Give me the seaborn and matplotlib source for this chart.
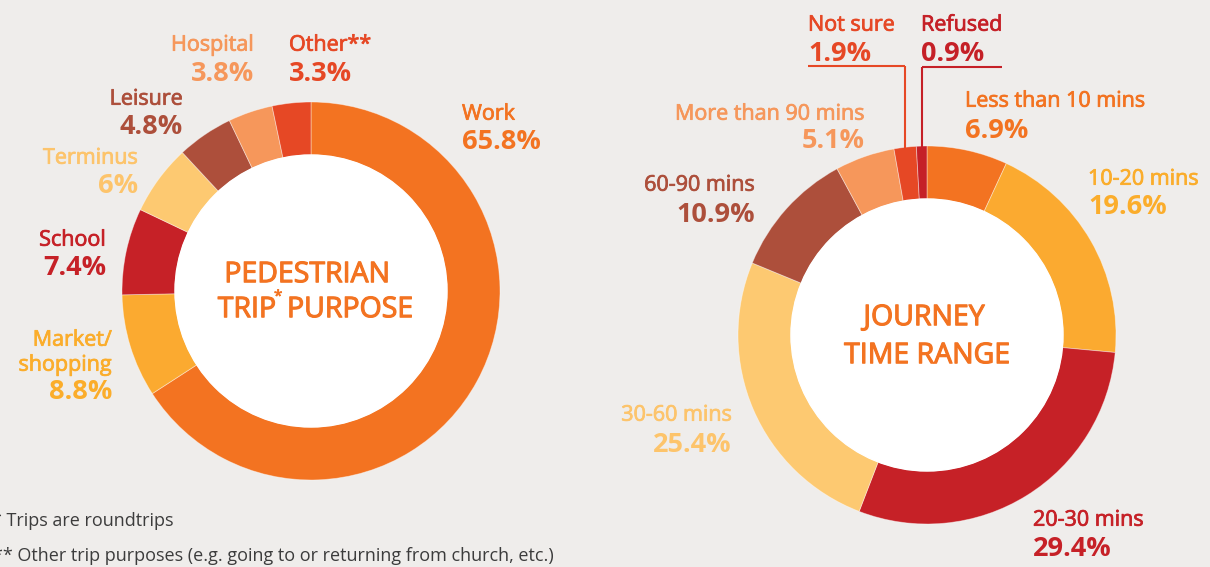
import numpy as np
import matplotlib
matplotlib.use("Agg")
import matplotlib.pyplot as plt
import matplotlib.patheffects as pe
import seaborn as sns

# data
purpose_labels = ['Work', 'Market/\nshopping', 'School', 'Terminus', 'Leisure', 'Hospital', 'Other**']
purpose_values = [65.8, 8.8, 7.4, 6.0, 4.8, 3.8, 3.3]

journey_labels = ['Less than 10 mins', '10-20 mins', '20-30 mins', '30-60 mins',
                  '60-90 mins', 'More than 90 mins', 'Not sure', 'Refused']
journey_values = [6.9, 19.6, 29.4, 25.4, 10.9, 5.1, 1.9, 0.9]

footnotes = ['* Trips are roundtrips',
             '** Other trip purposes (e.g. going to or returning from church, etc.)']

# colours
ORANGE = '#F37321'
AMBER = '#FBAA30'
RED = '#C62127'
LIGHT = '#FDC971'
BROWN = '#AD4F3B'
PEACH = '#F6975B'
VERM = '#E64825'
BG = '#EFEDEB'

purpose_colors = [ORANGE, AMBER, RED, LIGHT, BROWN, PEACH, VERM]
journey_colors = [ORANGE, AMBER, RED, LIGHT, BROWN, PEACH, VERM, '#C52027']
text_colors_p = [ORANGE, '#FBAD2B', RED, '#FDC46B', BROWN, PEACH, VERM]
text_colors_j = [ORANGE, '#FBAD2B', RED, '#FDC46B', BROWN, PEACH, VERM, '#C52027']

sns.set_style("white", {"axes.facecolor": BG, "figure.facecolor": BG})
plt.rcParams['font.family'] = ['Open Sans', 'DejaVu Sans']

W, H = 1210, 567
fig = plt.figure(figsize=(W / 100, H / 100), dpi=100, facecolor=BG)
ax = fig.add_axes([0, 0, 1, 1])
ax.set_facecolor(BG)

R, RING = 189, 53
centers = [(311, 291), (927, 335)]

edge = dict(width=RING, edgecolor=(1, 1, 1, 0.45), linewidth=0.6)
# y axis is inverted (pixel style), so start at -90 and go "counterclock" to get clockwise from top
ax.pie(purpose_values, colors=purpose_colors, center=centers[0], radius=R,
       startangle=-90, counterclock=True, wedgeprops=edge, frame=True)
ax.pie(journey_values, colors=journey_colors, center=centers[1], radius=R,
       startangle=-90, counterclock=True, wedgeprops=edge, frame=True)
for c in centers:
    ax.add_patch(plt.Circle(c, R - RING, color='white', zorder=3))

ax.set_xlim(0, W)
ax.set_ylim(H, 0)
ax.set_aspect('auto')
ax.axis('off')

NAME_PT, PCT_PT = 15.5, 19.5


def base(y, pt):
    # baseline from cap-centre pixel position
    return y + 0.357 * pt / 0.72


def heavy(color, w=0.55):
    # fake a semibold face with a thin outline in the text colour
    return [pe.withStroke(linewidth=w, foreground=color)]


def label(x, y_name, y_pct, name, pct, color, ha):
    lines = name.split('\n')
    for k, ln in enumerate(lines):
        ax.text(x, base(y_name + 25 * k, NAME_PT), ln, ha=ha, va='baseline',
                fontsize=NAME_PT, color=color, path_effects=heavy(color))
    ax.text(x, base(y_pct, PCT_PT), pct, ha=ha, va='baseline',
            fontsize=PCT_PT, fontweight='bold', color=color)


# label layout: (x, name y, pct y, ha)
purpose_pos = [(462, 112, 139, 'left'), (112, 338, 389, 'right'), (106, 238, 265, 'right'),
               (138, 156, 183, 'right'), (183, 97, 124, 'right'), (254, 43, 71, 'right'),
               (289, 43, 71, 'left')]
journey_pos = [(965, 99, 128, 'left'), (1088, 177, 204, 'left'), (1033, 518, 546, 'left'),
               (732, 413, 442, 'right'), (755, 183, 212, 'right'), (865, 112, 138, 'right'),
               (808, 23, 51, 'left'), (921, 23, 51, 'left')]

for lab, v, col, (x, yn, yp, ha) in zip(purpose_labels, purpose_values, text_colors_p, purpose_pos):
    label(x, yn, yp, lab, f'{v:g}%', col, ha)
for lab, v, col, (x, yn, yp, ha) in zip(journey_labels, journey_values, text_colors_j, journey_pos):
    label(x, yn, yp, lab, f'{v:g}%', col, ha)

# leader lines for the two thin slices
tot = sum(journey_values)
cum = np.cumsum([0] + journey_values)
cx, cy = centers[1]
for i, (x0, x1, yl) in zip([6, 7], [(808, None, 66), (None, 1002, 67)]):
    frac = (cum[i] + journey_values[i] / 2) / tot
    ang = np.deg2rad(frac * 360)
    lx = cx + R * np.sin(ang)
    ly = cy - np.sqrt(R ** 2 - (lx - cx) ** 2)
    xa = x0 if x0 is not None else lx
    xb = x1 if x1 is not None else lx
    ax.plot([xa, xb], [yl, yl], color=text_colors_j[i], lw=1.5, solid_capstyle='butt')
    ax.plot([lx, lx], [yl, ly + 2], color=text_colors_j[i], lw=1.5, solid_capstyle='butt')

# centre titles
CT = 20.5
for x, y, s, ha in [(307, 272, 'PEDESTRIAN', 'center'), (276, 307, 'TRIP', 'right'),
                    (287, 307, 'PURPOSE', 'left'), (924, 315, 'JOURNEY', 'center'),
                    (927, 353, 'TIME RANGE', 'center')]:
    ax.text(x, base(y, CT), s, ha=ha, va='baseline', fontsize=CT,
            color=ORANGE, zorder=5, path_effects=heavy(ORANGE, 0.8))
ax.text(274, base(296, 10), '*', ha='left', va='baseline',
        fontsize=11, color=ORANGE, zorder=5, path_effects=heavy(ORANGE, 0.5))

# footnotes
ax.text(-8, base(520, 13), footnotes[0], ha='left', va='baseline', fontsize=13, color='#3C3C3C')
ax.text(-7, base(555, 13), footnotes[1], ha='left', va='baseline', fontsize=13, color='#3C3C3C')

plt.savefig('out.png', dpi=100, facecolor=BG)
